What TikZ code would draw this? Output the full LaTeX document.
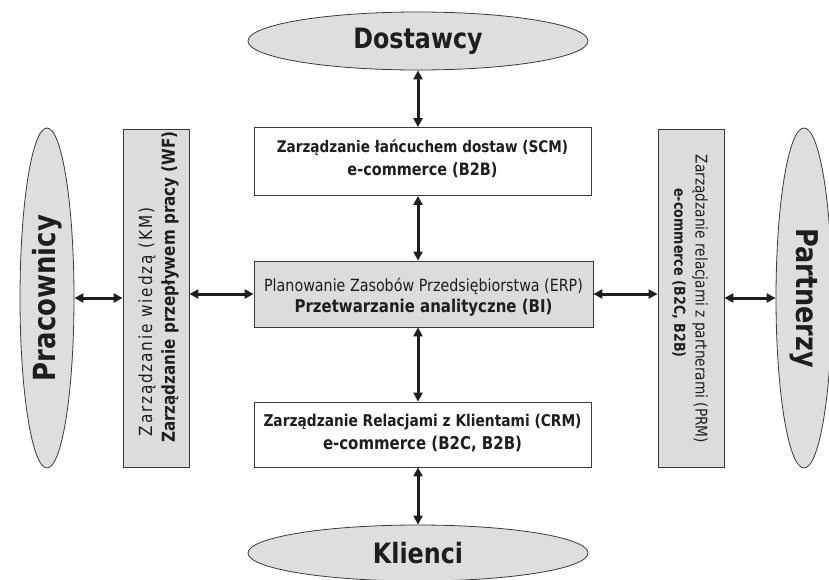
\documentclass[tikz,border=0pt]{standalone}
\usepackage{fontspec}
\setmainfont{DejaVu Sans}[FakeStretch=0.85]
\usetikzlibrary{shapes.geometric,arrows.meta}
\definecolor{boxgray}{HTML}{DCDCDC}
\definecolor{ellgray}{HTML}{DEDEDE}
\definecolor{edge}{HTML}{3A3A3A}
\definecolor{ink}{HTML}{1E1E1E}
\tikzset{
  party/.style={ellipse, draw=edge, line width=0.8pt, fill=ellgray, inner sep=0pt, text=ink, font=\fontsize{28}{30}\selectfont\bfseries},
  whitebox/.style={rectangle, draw=edge, line width=0.8pt, fill=white, inner sep=0pt},
  graybox/.style={rectangle, draw=edge, line width=0.8pt, fill=boxgray, inner sep=0pt},
  txt/.style={text=ink, inner sep=0pt, anchor=center},
  biarrow/.style={{Triangle[length=9pt,width=9pt]}-{Triangle[length=9pt,width=9pt]}, line width=3pt, draw=ink},
}
\newcommand{\fs}[1]{\fontsize{#1}{#1}\selectfont}
\begin{document}
\begin{tikzpicture}[x=1pt,y=-1pt]
\useasboundingbox (0,0) rectangle (829,579);

% outside parties
\node[party, minimum width=340pt, minimum height=58pt] (dost) at (418,41) {Dostawcy};
\node[party, minimum width=340pt, minimum height=56pt] (klie) at (418,553) {Klienci};
\node[party, minimum width=54pt, minimum height=340pt] (prac) at (47,298) {};
\node[txt, rotate=90, font=\fs{30.5}\bfseries] (pract) at (prac.center) {Pracownicy};
\node[party, minimum width=56pt, minimum height=340pt] (part) at (804,298) {};
\node[txt, rotate=-90, font=\fs{30}\bfseries] (partt) at (part.center) {Partnerzy};

% central column
\node[whitebox, minimum width=337pt, minimum height=68pt] (scm) at (422.5,161.5) {};
\node[txt, font=\fs{16}\bfseries] (scm1) at (422.5,148) {Zarządzanie łańcuchem dostaw (SCM)};
\node[txt, font=\fs{17}\bfseries] (scm2) at (422.5,170) {e-commerce (B2B)};
\node[graybox, minimum width=339pt, minimum height=66pt] (erp) at (423.5,294) {};
\node[txt, font=\fs{16.8}] (erp1) at (423.5,286) {Planowanie Zasobów Przedsiębiorstwa (ERP)};
\node[txt, font=\fs{17.6}\bfseries] (erp2) at (423.5,308) {Przetwarzanie analityczne (BI)};
\node[whitebox, minimum width=337pt, minimum height=65pt] (crm) at (422.5,434.5) {};
\node[txt, font=\fs{16.2}\bfseries] (crm1) at (422.5,422) {Zarządzanie Relacjami z Klientami (CRM)};
\node[txt, font=\fs{17.6}\bfseries] (crm2) at (422.5,444) {e-commerce (B2C, B2B)};

% side columns
\node[graybox, minimum width=66pt, minimum height=338pt] (km) at (156,298) {};
\node[txt, rotate=90, font=\fs{18}\addfontfeatures{LetterSpace=10}] (km1) at (147,322) {Zarządzanie wiedzą (KM)};
\node[txt, rotate=90, font=\fs{17.8}\bfseries] (km2) at (170,287) {Zarządzanie przepływem pracy (WF)};
\node[graybox, minimum width=66pt, minimum height=338pt] (prm) at (691,298) {};
\node[txt, rotate=-90, font=\fs{16.1}] (prm1) at (700,299) {Zarządzanie relacjami z partnerami (PRM)};
\node[txt, rotate=-90, font=\fs{15}\bfseries] (prm2) at (679,273) {e-commerce (B2C, B2B)};

% connectors
\draw[biarrow] (dost.south) -- (dost.south |- scm.north);
\draw[biarrow] (scm.south -| dost.south) -- (erp.north -| dost.south);
\draw[biarrow] (erp.south -| dost.south) -- (crm.north -| dost.south);
\draw[biarrow] (crm.south -| klie.north) -- (klie.north);
\draw[biarrow] (prac.east) -- (km.west |- prac.east);
\draw[biarrow] (km.east |- erp.west) -- (erp.west);
\draw[biarrow] (erp.east) -- (prm.west |- erp.east);
\draw[biarrow] (prm.east |- part.west) -- (part.west);
\end{tikzpicture}
\end{document}
